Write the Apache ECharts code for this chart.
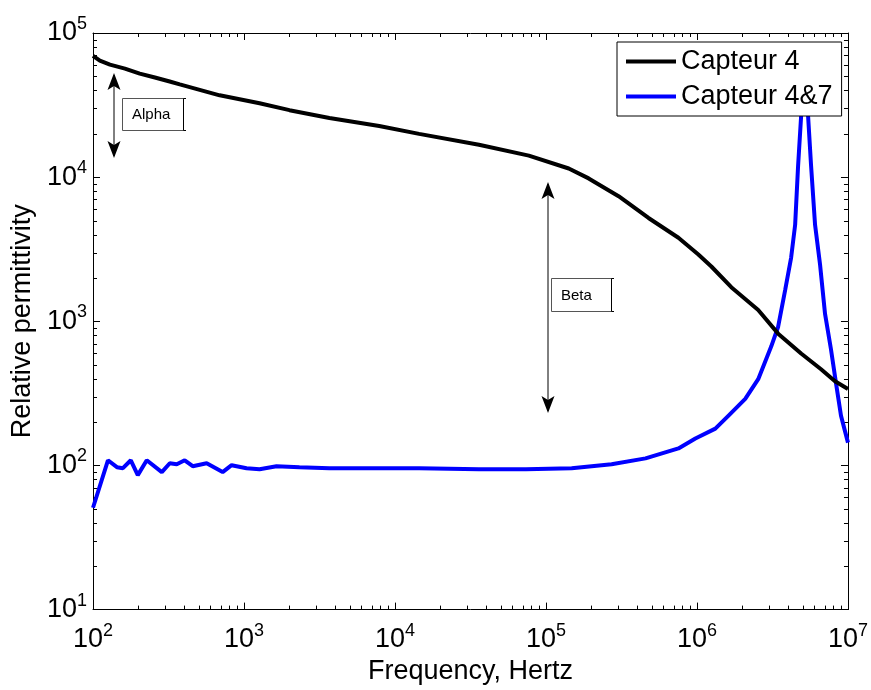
<!DOCTYPE html>
<html>
<head>
<meta charset="utf-8">
<script src="https://cdn.jsdelivr.net/npm/echarts@6/dist/echarts.min.js"></script>
<style>
  html, body { margin: 0; padding: 0; background: #fff; }
  #chart { width: 871px; height: 690px; }
</style>
</head>
<body>
<div id="chart"></div>
<script>
// Capteur 4 (black)
const freqCapteur4 = [100, 111, 129.5, 162.7, 204, 257, 322, 375.5, 690, 1268, 2001, 3677, 7864, 14440, 35980, 77000, 141500, 191700, 302600, 477500, 753500, 1021000, 1245000, 1687000, 2544000, 3448000, 4894000, 6632000, 8207000, 10000000];
const permCapteur4 = [69500, 64300, 60300, 56600, 52300, 49100, 46100, 44000, 36960, 32580, 29150, 25700, 22650, 19960, 16780, 14100, 11480, 9800, 7380, 5210, 3800, 2905, 2400, 1725, 1199, 821, 598, 465, 384, 339];

// Capteur 4&7 (blue)
const freqCapteur47 = [100, 125.6, 144, 157.8, 178, 198, 227, 285.6, 322.5, 358.7, 405, 457.6, 566, 722, 828, 1040, 1268, 1642, 2329, 3677, 14440, 35980, 73570, 148000, 272000, 456200, 753500, 975800, 1323000, 1612000, 2087000, 2544000, 3100000, 3448000, 3836000, 4203000, 4467000, 4674000, 4894000, 5161000, 5443000, 5696000, 6053000, 6531000, 7049000, 7719000, 8330000, 8991000, 10000000];
const permCapteur47 = [50.9, 108.6, 97.3, 95.7, 108.6, 85.7, 108.6, 89.9, 103.6, 102, 108.6, 98.8, 103.6, 89.9, 100.4, 95.7, 94.2, 98.8, 97.3, 95.7, 95.7, 94.2, 94.2, 95.7, 102, 112, 131.3, 153.8, 180, 221, 289.3, 396.8, 668, 917, 1645, 2770, 4666, 12040, 26530, 65300, 26530, 12040, 4666, 2480, 1125, 637.5, 372.6, 221, 144];

const seriesNames = ['Capteur 4', 'Capteur 4&7'];
const xTitle = 'Frequency, Hertz';
const yTitle = 'Relative permittivity';
const annotationLabels = ['Alpha', 'Beta'];

// log-axis minor tick positions (mantissa x decade)
const minorMantissas = [2, 3, 4, 5, 6, 7, 8, 9];
const xDecades = [100, 1000, 10000, 100000, 1000000];
const yDecades = [10, 100, 1000, 10000];

const FONT = 'Liberation Sans, Arial, Helvetica, sans-serif';

function pairs(xs, ys) { return xs.map((x, i) => [x, ys[i]]); }

const minorTickData = [];
xDecades.forEach(d => minorMantissas.forEach(m => minorTickData.push([m * d, 10, 0])));
yDecades.forEach(d => minorMantissas.forEach(m => minorTickData.push([100, m * d, 1])));

const powLabel = {
  formatter: function (v) { return '{b|10}{s|' + Math.round(Math.log10(v)) + '}'; },
  rich: {
    b: { fontSize: 27, fontFamily: FONT, color: '#000', lineHeight: 36, verticalAlign: 'middle' },
    s: { fontSize: 18, fontFamily: FONT, color: '#000', lineHeight: 14, verticalAlign: 'top' }
  }
};

const tickCommon = { show: true, inside: true, length: 7, lineStyle: { color: '#000', width: 1 } };
const lineCommon = { show: true, onZero: false, lineStyle: { color: '#000', width: 1 } };

function arrowHead(tipX, tipY, dir) {
  const L = 17, W = 6.5, N = 13;
  return {
    type: 'polygon',
    shape: { points: [[tipX, tipY], [tipX - W, tipY - dir * L], [tipX, tipY - dir * N], [tipX + W, tipY - dir * L]] },
    style: { fill: '#000' }, z: 10
  };
}

function doubleArrow(x, y1, y2) {
  return [
    { type: 'line', shape: { x1: x, y1: y1 + 2, x2: x, y2: y2 - 2 }, style: { stroke: '#000', lineWidth: 1 }, z: 10 },
    arrowHead(x, y1, -1),
    arrowHead(x, y2, 1)
  ];
}

function textBox(x, y, w, h, txt) {
  return [
    { type: 'rect', shape: { x: x + 0.5, y: y + 0.5, width: w, height: h }, style: { fill: '#fff', stroke: '#555', lineWidth: 1 }, z: 10 },
    { type: 'polyline', shape: { points: [[x + w + 3, y + 0.5], [x + w + 0.5, y + 0.5], [x + w + 0.5, y + h + 0.5], [x + w + 3, y + h + 0.5]] }, style: { stroke: '#000', fill: null, lineWidth: 1 }, z: 11 },
    { type: 'text', x: x + 10, y: y + h / 2 + 1, style: { text: txt, font: '15px ' + FONT, fill: '#000', textVerticalAlign: 'middle' }, z: 11 }
  ];
}

function renderMinorTick(params, api) {
  const cs = params.coordSys;
  const kind = api.value(2);
  const p = api.coord([api.value(0), api.value(1)]);
  const st = { stroke: '#000', lineWidth: 1 };
  const len = 4;
  if (kind === 0) {
    const x = Math.round(p[0]) + 0.5;
    const yb = cs.y + cs.height, yt = cs.y;
    return { type: 'group', children: [
      { type: 'line', shape: { x1: x, y1: yb, x2: x, y2: yb - len }, style: st },
      { type: 'line', shape: { x1: x, y1: yt, x2: x, y2: yt + len }, style: st }
    ] };
  }
  const y = Math.round(p[1]) + 0.5;
  const xl = cs.x, xr = cs.x + cs.width;
  return { type: 'group', children: [
    { type: 'line', shape: { x1: xl, y1: y, x2: xl + len, y2: y }, style: st },
    { type: 'line', shape: { x1: xr, y1: y, x2: xr - len, y2: y }, style: st }
  ] };
}

const chart = echarts.init(document.getElementById('chart'), null, { renderer: 'canvas' });

const option = {
  backgroundColor: '#fff',
  animation: false,
  grid: { left: 93, right: 21, top: 33, bottom: 74, containLabel: false },
  legend: {
    data: seriesNames,
    orient: 'vertical',
    left: 617, top: 42,
    padding: [6, 9, 6, 9],
    itemGap: 8,
    itemWidth: 50, itemHeight: 4,
    icon: 'rect',
    backgroundColor: '#fff',
    borderColor: '#000', borderWidth: 1, borderRadius: 0,
    textStyle: { fontSize: 27, fontFamily: FONT, color: '#000' },
    selectedMode: false
  },
  xAxis: [
    {
      type: 'log', logBase: 10, min: 100, max: 10000000, interval: 1,
      position: 'bottom',
      name: xTitle, nameLocation: 'middle', nameGap: 46,
      nameTextStyle: { fontSize: 27, fontFamily: FONT, color: '#000' },
      axisLine: lineCommon, axisTick: tickCommon, minorTick: { show: false },
      axisLabel: Object.assign({ margin: 12 }, powLabel),
      splitLine: { show: false }
    },
    {
      type: 'log', logBase: 10, min: 100, max: 10000000, interval: 1,
      position: 'top',
      axisLine: lineCommon, axisTick: tickCommon,
      axisLabel: { show: false }, splitLine: { show: false }
    }
  ],
  yAxis: [
    {
      type: 'log', logBase: 10, min: 10, max: 100000, interval: 1,
      position: 'left',
      name: yTitle, nameLocation: 'middle', nameGap: 56,
      nameTextStyle: { fontSize: 27, fontFamily: FONT, color: '#000' },
      axisLine: lineCommon, axisTick: tickCommon, minorTick: { show: false },
      axisLabel: Object.assign({ margin: 6 }, powLabel),
      splitLine: { show: false }
    },
    {
      type: 'log', logBase: 10, min: 10, max: 100000, interval: 1,
      position: 'right',
      axisLine: lineCommon, axisTick: tickCommon,
      axisLabel: { show: false }, splitLine: { show: false }
    }
  ],
  series: [
    {
      name: 'minorTicks', type: 'custom', data: minorTickData,
      renderItem: renderMinorTick, silent: true, clip: false, z: 1,
      xAxisIndex: 0, yAxisIndex: 0
    },
    {
      name: seriesNames[0], type: 'line', data: pairs(freqCapteur4, permCapteur4),
      showSymbol: false, symbol: 'none', smooth: false,
      color: '#000', lineStyle: { color: '#000', width: 4 }, z: 3
    },
    {
      name: seriesNames[1], type: 'line', data: pairs(freqCapteur47, permCapteur47),
      showSymbol: false, symbol: 'none', smooth: false,
      color: '#0000ff', lineStyle: { color: '#0000ff', width: 4 }, z: 2
    }
  ],
  graphic: [].concat(
    doubleArrow(114, 73, 158),
    textBox(122, 98, 61, 32, annotationLabels[0]),
    doubleArrow(548, 182, 413),
    textBox(551, 278, 60, 33, annotationLabels[1])
  )
};

chart.setOption(option);
</script>
</body>
</html>
